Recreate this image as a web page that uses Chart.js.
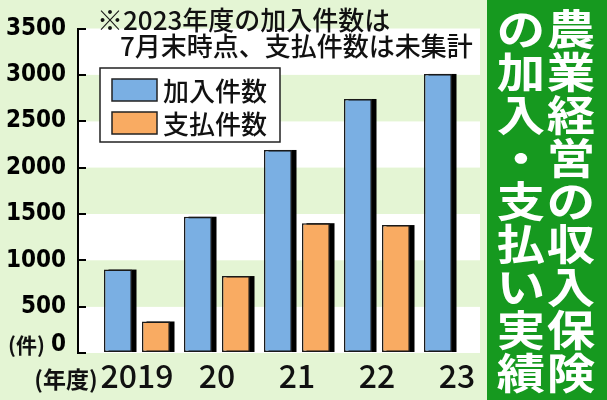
<!DOCTYPE html>
<html><head><meta charset="utf-8">
<script src="https://cdn.jsdelivr.net/npm/chart.js@4"></script>
<style>html,body{margin:0;padding:0;background:#e4f5d4;}#wrap{width:607px;height:400px;position:relative;}</style>
</head><body><div id="wrap"><canvas id="c"></canvas></div>
<script>
// ---- data ----
const years = [2019, 2020, 2021, 2022, 2023];
const yearLabels = ['2019', '20', '21', '22', '23'];
const enrolled = [900, 1470, 2190, 2740, 3010];
const paid = [340, 830, 1400, 1380, null];
const seriesNames = ['加入件数', '支払件数'];
const yTicks = [0, 500, 1000, 1500, 2000, 2500, 3000, 3500];
const noteLines = ['※2023年度の加入件数は', '7月末時点、支払件数は未集計'];
const titleRight = '農業経営の収入保険';
const titleLeft = 'の加入・支払い実績';
const yUnit = '(件)';
const xUnit = '(年度)';

// ---- styles ----
const BG = '#e4f5d4', PANEL = '#16991f', BLUE = '#7aafe3', ORANGE = '#f9ab62';
const JP = "'Noto Sans CJK JP','Noto Sans',sans-serif";
const COND = "'DejaVu Sans Condensed','DejaVu Sans',sans-serif";

const decor = {
  id: 'decor',
  beforeDraw(chart) {
    const {ctx, chartArea: a, scales: {y}} = chart;
    ctx.save();
    ctx.fillStyle = BG; ctx.fillRect(0, 0, chart.width, chart.height);
    for (let i = 0; i < yTicks.length - 1; i++) {
      const top = y.getPixelForValue(yTicks[i + 1]), bot = y.getPixelForValue(yTicks[i]);
      ctx.fillStyle = i % 2 === 0 ? '#ffffff' : BG;
      ctx.fillRect(a.left, top, a.right - a.left, bot - top);
    }
    ctx.fillStyle = PANEL; ctx.fillRect(487, 0, chart.width - 487, chart.height);
    ctx.restore();
  },
  beforeDatasetsDraw(chart) {
    const ctx = chart.ctx; ctx.save(); ctx.fillStyle = '#000';
    chart.data.datasets.forEach((ds, di) => {
      chart.getDatasetMeta(di).data.forEach(bar => {
        if (bar.skip || bar.y == null || isNaN(bar.y)) return;
        const p = bar.getProps(['x', 'y', 'base', 'width']);
        ctx.fillRect(p.x - p.width / 2 + 4.5, p.y, p.width, p.base - p.y);
      });
    });
    ctx.restore();
  },
  afterDraw(chart) {
    const {ctx, scales: {x, y}} = chart;
    ctx.save();
    // note
    ctx.fillStyle = '#111'; ctx.textBaseline = 'middle'; ctx.textAlign = 'left';
    ctx.font = '500 26px ' + JP;
    ctx.fillText(noteLines[0], 97, 20);
    ctx.fillText(noteLines[1], 120, 46);
    // legend
    ctx.fillStyle = '#fff'; ctx.fillRect(100, 68, 180, 74);
    ctx.strokeStyle = '#222'; ctx.lineWidth = 1.5; ctx.strokeRect(100, 68, 180, 74);
    chart.data.datasets.forEach((ds, i) => {
      const yy = 79 + i * 33;
      ctx.fillStyle = ds.backgroundColor; ctx.fillRect(112, yy, 45, 22);
      ctx.strokeStyle = '#222'; ctx.lineWidth = 1.5; ctx.strokeRect(112, yy, 45, 22);
      ctx.fillStyle = '#111'; ctx.font = '500 26px ' + JP; ctx.textAlign = 'left';
      ctx.fillText(ds.label, 163, yy + 12);
    });
    // units
    ctx.fillStyle = '#111'; ctx.font = 'bold 21px ' + JP; ctx.textAlign = 'right';
    ctx.fillText(yUnit, 45, y.getPixelForValue(0) - 8);
    ctx.font = 'bold 23px ' + JP; ctx.textAlign = 'center';
    ctx.fillText(xUnit, 66, x.top + 26);
    // vertical title
    ctx.fillStyle = '#fff'; ctx.font = 'bold 42px ' + JP; ctx.textAlign = 'center';
    const draw = (str, cx) => {
      [...str].forEach((ch, i) => {
        ctx.save(); ctx.translate(cx, 29 + i * 43); ctx.scale(1.15, 1);
        ctx.fillText(ch, 0, 0); ctx.restore();
      });
    };
    draw(titleRight, 571);
    draw(titleLeft, 521);
    ctx.restore();
  }
};

new Chart(document.getElementById('c'), {
  type: 'bar',
  data: {
    labels: years,
    datasets: [
      {label: seriesNames[0], data: enrolled, backgroundColor: BLUE, borderColor: '#1a1a1a', borderWidth: 1.5, borderSkipped: false},
      {label: seriesNames[1], data: paid, backgroundColor: ORANGE, borderColor: '#1a1a1a', borderWidth: 1.5, borderSkipped: false}
    ]
  },
  options: {
    responsive: true, maintainAspectRatio: false, animation: false,
    categoryPercentage: 0.95, barPercentage: 0.737,
    layout: {padding: {top: 28, right: 127, left: 0, bottom: 0}},
    plugins: {legend: {display: false}, title: {display: false}, tooltip: {enabled: false}},
    scales: {
      x: {
        type: 'linear', min: 2018.2625, max: 2023.2875, offset: false,
        grid: {display: false, drawTicks: false, offset: false}, border: {display: false},
        afterBuildTicks: s => { s.ticks = years.map(v => ({value: v})); },
        afterFit: s => { s.height = 47; },
        ticks: {
          autoSkip: false, maxRotation: 0, padding: 4, color: '#111',
          font: {family: JP, size: 32, weight: '500'},
          callback: (v, i) => yearLabels[i]
        }
      },
      y: {
        min: 0, max: 3500,
        afterBuildTicks: s => { s.ticks = yTicks.map(v => ({value: v})); },
        afterFit: s => { s.width = 78; },
        grid: {drawOnChartArea: false, drawTicks: true, tickLength: -8, color: '#000', lineWidth: 2},
        border: {display: true, color: '#000', width: 2},
        ticks: {
          padding: 20, color: '#000',
          font: {family: COND, size: 24, weight: 'bold', lineHeight: 0.71},
          callback: v => v === 0 ? ['0', ''] : String(v)
        }
      }
    }
  },
  plugins: [decor]
});
</script></body></html>
